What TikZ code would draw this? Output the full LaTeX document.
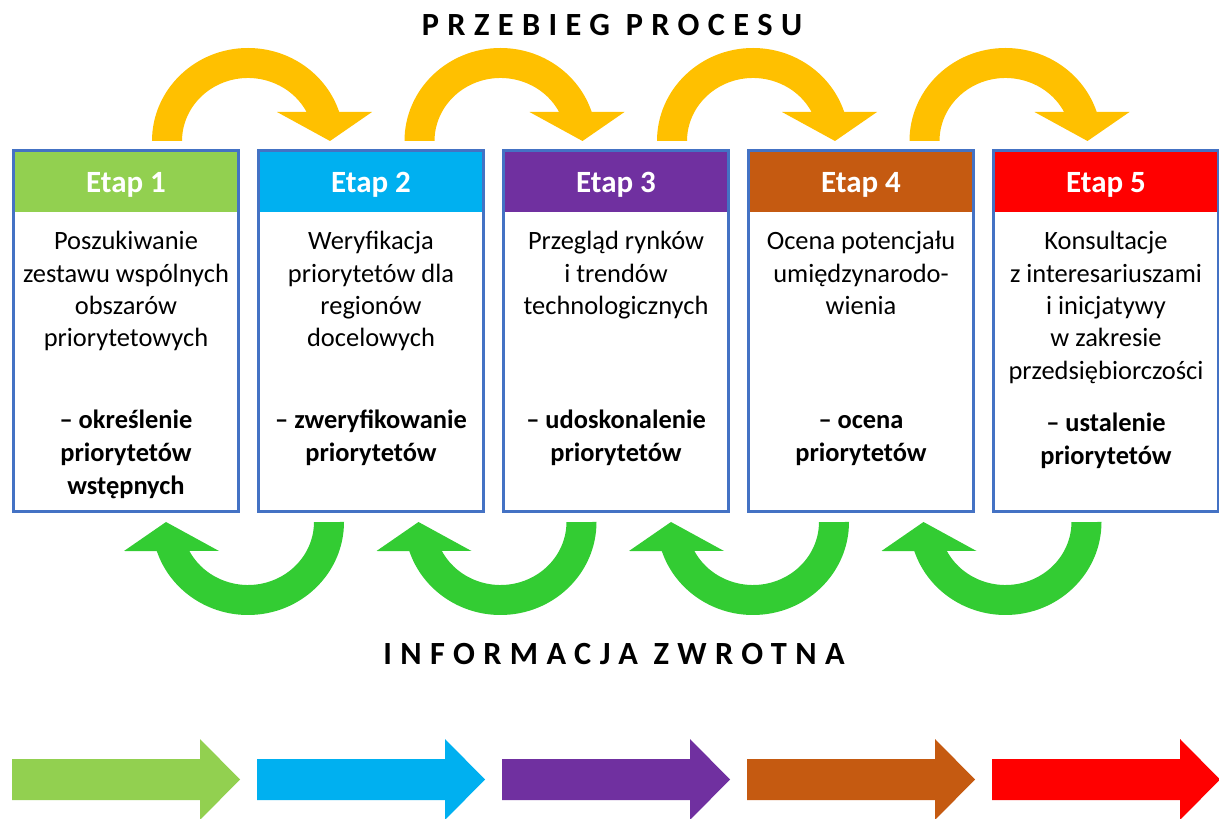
\documentclass[tikz,border=0pt]{standalone}
\usepackage{fontspec}
\setmainfont{Carlito}
\newfontfamily\spacedfont[LetterSpace=26]{Carlito}
\usepackage{tikz}
\usetikzlibrary{positioning}

\newcommand{\pxu}{0.025cm}
\definecolor{bordblue}{HTML}{4472C4}
\definecolor{etapgreen}{HTML}{92D050}
\definecolor{etapblue}{HTML}{00B0F0}
\definecolor{etappurple}{HTML}{7030A0}
\definecolor{etaporange}{HTML}{C55A11}
\definecolor{etapred}{HTML}{FF0000}
\definecolor{loopyellow}{HTML}{FFC000}
\definecolor{loopgreen}{HTML}{33CC33}

\tikzset{
  stagebox/.style={draw=bordblue, line width=3*\pxu, minimum width=225*\pxu, minimum height=361*\pxu, inner sep=0pt},
  stagehead/.style={minimum width=222*\pxu, minimum height=60*\pxu, inner sep=0pt, outer sep=0pt, text height=15.6pt, text depth=0pt, text=white, font=\fontsize{22}{26}\selectfont\bfseries},
  stagetext/.style={align=center, inner sep=0pt, anchor=base, font=\fontsize{18.8}{23}\selectfont},
  stageresult/.style={align=center, inner sep=0pt, anchor=base, font=\fontsize{18.8}{23.5}\selectfont\bfseries},
  phasetitle/.style={inner sep=0pt, font=\spacedfont\fontsize{23}{27}\selectfont\bfseries},
}

\begin{document}
\begin{tikzpicture}[x=\pxu, y=-\pxu]
  \useasboundingbox (0,0) rectangle (1219,819);

  % Titles
  \node[phasetitle] (przebieg) at (612,25) {PRZEBIEG PROCESU};
  \node[phasetitle] (zwrotna) at (614,654) {INFORMACJA ZWROTNA};

  % Stage boxes with coloured headers
  \node[stagebox] (box1) at (126,331) {};
  \node[stagebox] (box2) at (371,331) {};
  \node[stagebox] (box3) at (616,331) {};
  \node[stagebox] (box4) at (861,331) {};
  \node[stagebox] (box5) at (1106,331) {};

  \node[stagehead, fill=etapgreen, below=0.075cm of box1.north] (head1) {Etap 1};
  \node[stagehead, fill=etapblue, below=0.075cm of box2.north] (head2) {Etap 2};
  \node[stagehead, fill=etappurple, below=0.075cm of box3.north] (head3) {Etap 3};
  \node[stagehead, fill=etaporange, below=0.075cm of box4.north] (head4) {Etap 4};
  \node[stagehead, fill=etapred, below=0.075cm of box5.north] (head5) {Etap 5};

  % Descriptions (base = baseline of the last line)
  \node[stagetext] (text1) at (126,347) {Poszukiwanie\\zestawu wspólnych\\obszarów\\priorytetowych};
  \node[stagetext] (text2) at (371,347) {Weryfikacja\\priorytetów dla\\regionów\\docelowych};
  \node[stagetext] (text3) at (616,314.6) {Przegląd rynków\\i trendów\\technologicznych};
  \node[stagetext] (text4) at (861,314.6) {Ocena potencjału\\umiędzynarodo-\\wienia};
  \node[stagetext] (text5) at (1106,379.2) {Konsultacje\\z interesariuszami\\i inicjatywy\\w zakresie\\przedsiębiorczości};

  % Results
  \node[stageresult] (res1) at (126,495) {– określenie\\priorytetów\\wstępnych};
  \node[stageresult] (res2) at (371,462) {– zweryfikowanie\\priorytetów};
  \node[stageresult] (res3) at (616,462) {– udoskonalenie\\priorytetów};
  \node[stageresult] (res4) at (861,462) {– ocena\\priorytetów};
  \node[stageresult] (res5) at (1106,465) {– ustalenie\\priorytetów};

  % Curved arrows: process (top) and feedback (bottom)
  \foreach \cx in {248,500.5,753,1005.5} {
    \fill[loopyellow, shift={(\cx,141)}] (-96,0)
      arc[start angle=180, end angle=341.8, x radius=96, y radius=93]
      -- (124,-29) -- (82,0) -- (29,-29) -- (58.6,-29)
      arc[start angle=332.6, end angle=180, x radius=66, y radius=63] -- cycle;
    \fill[loopgreen, shift={(\cx,522)}] (96,0)
      arc[start angle=0, end angle=161.8, x radius=96, y radius=93]
      -- (-124,29) -- (-82,0) -- (-29,29) -- (-58.6,29)
      arc[start angle=152.6, end angle=0, x radius=66, y radius=63] -- cycle;
  }

  % Block arrows at the bottom
  \foreach \lx/\col in {12/etapgreen,257/etapblue,502/etappurple,747/etaporange,992/etapred} {
    \fill[\col, shift={(\lx,0)}] (0,759) -- (188,759) -- (188,739) -- (228,779.5)
      -- (188,820) -- (188,800) -- (0,800) -- cycle;
  }
\end{tikzpicture}
\end{document}
